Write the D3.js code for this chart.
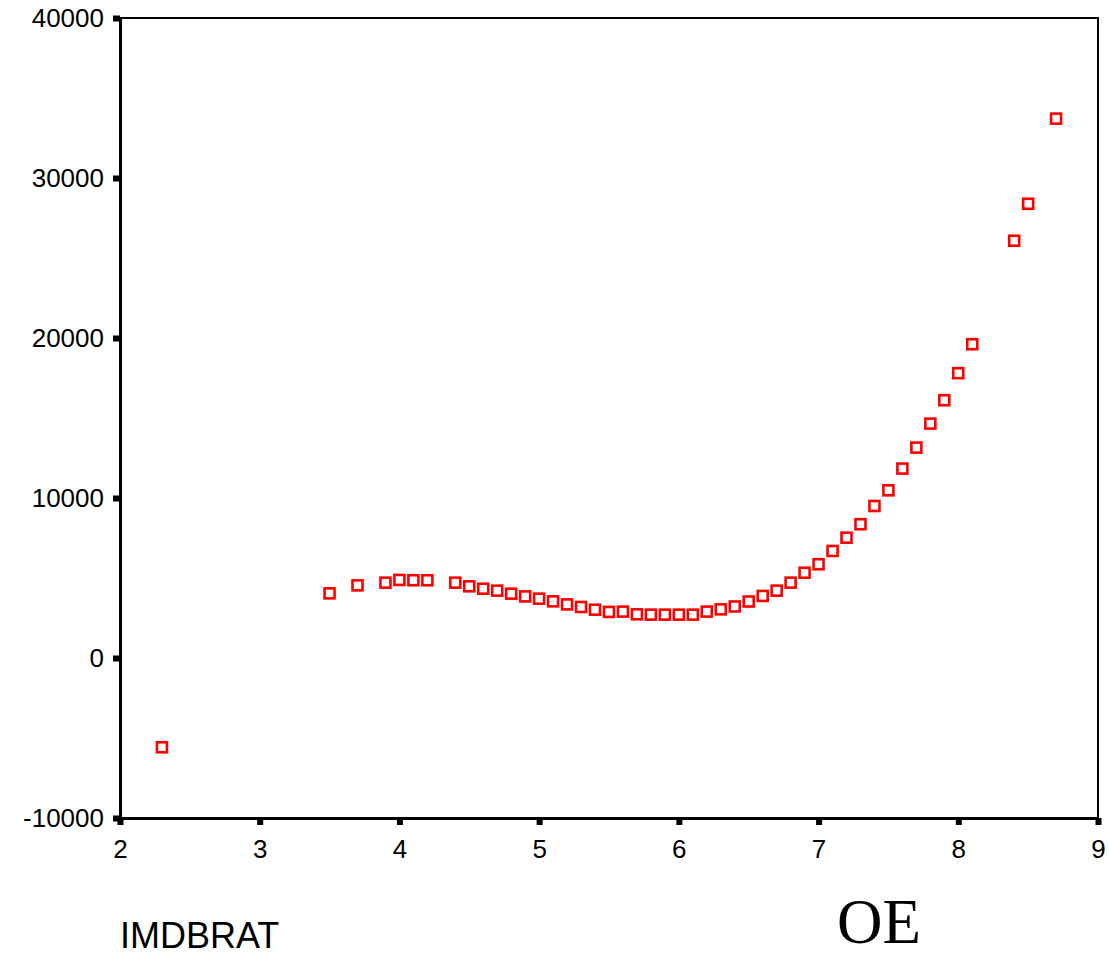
<!DOCTYPE html>
<html>
<head>
<meta charset="utf-8">
<script src="https://cdn.jsdelivr.net/npm/d3@7"></script>
<style>
  html, body { margin: 0; padding: 0; background: #fff; }
  svg { display: block; }
  .tick text { font-family: "Liberation Sans", Arial, sans-serif; font-size: 26px; fill: #000; }
</style>
</head>
<body>
<script>
// IMDB rating (x) against predicted OE (y)
const ratings = [2.3, 3.5, 3.7, 3.9, 4.0, 4.1, 4.2, 4.4, 4.5, 4.6, 4.7, 4.8, 4.9, 5.0,
  5.1, 5.2, 5.3, 5.4, 5.5, 5.6, 5.7, 5.8, 5.9, 6.0, 6.1, 6.2, 6.3, 6.4, 6.5, 6.6,
  6.7, 6.8, 6.9, 7.0, 7.1, 7.2, 7.3, 7.4, 7.5, 7.6, 7.7, 7.8, 7.9, 8.0, 8.1, 8.4,
  8.5, 8.7];
const oeValues = [-5580, 4040, 4540, 4710, 4880, 4860, 4860, 4710, 4480, 4330, 4210,
  4020, 3850, 3710, 3540, 3350, 3190, 3020, 2880, 2900, 2730, 2710, 2710, 2710, 2710,
  2900, 3040, 3220, 3530, 3880, 4210, 4710, 5330, 5860, 6690, 7520, 8360, 9500,
  10480, 11840, 13150, 14650, 16110, 17800, 19610, 26080, 28390, 33710];
const xTicks = [2, 3, 4, 5, 6, 7, 8, 9];
const yTicks = [-10000, 0, 10000, 20000, 30000, 40000];
const xTitle = "IMDBRAT";
const yTitle = "OE";

const W = 1109, H = 956;
const plotL = 120, plotR = 1098, plotT = 18, plotB = 818;

const svg = d3.select("body").append("svg").attr("width", W).attr("height", H);

const x = d3.scaleLinear().domain([2, 9]).range([plotL, plotR]);
const y = d3.scaleLinear().domain([-10000, 40000]).range([plotB, plotT]);

// plain ASCII hyphen for negative labels
const fmt = d => String(d);

// frame: thin top/right, heavier left/bottom
svg.append("rect")
  .attr("x", plotL).attr("y", plotT)
  .attr("width", plotR - plotL).attr("height", plotB - plotT)
  .attr("fill", "none").attr("stroke", "#000").attr("stroke-width", 2);

const yAxis = svg.append("g")
  .attr("transform", `translate(${plotL},0)`)
  .call(d3.axisLeft(y).tickValues(yTicks).tickFormat(fmt)
    .tickSizeInner(7).tickSizeOuter(0).tickPadding(9));
yAxis.select(".domain").attr("stroke-width", 3);
yAxis.selectAll(".tick line").attr("stroke-width", 6);

const xAxis = svg.append("g")
  .attr("transform", `translate(0,${plotB})`)
  .call(d3.axisBottom(x).tickValues(xTicks).tickFormat(fmt)
    .tickSizeInner(7).tickSizeOuter(0).tickPadding(15));
xAxis.select(".domain").attr("stroke-width", 3);
xAxis.selectAll(".tick line").attr("stroke-width", 6);

// square markers
const s = 10;
svg.append("g").selectAll("rect")
  .data(ratings.map((r, i) => [r, oeValues[i]]))
  .join("rect")
  .attr("x", d => x(d[0]) - s / 2)
  .attr("y", d => y(d[1]) - s / 2)
  .attr("width", s).attr("height", s)
  .attr("fill", "#fff")
  .attr("stroke", "#ff0000")
  .attr("stroke-width", 2.6);

svg.append("text")
  .attr("x", 120).attr("y", 948)
  .attr("font-family", "Liberation Sans, Arial, sans-serif")
  .attr("font-size", 36)
  .text(xTitle);

svg.append("text")
  .attr("x", 837).attr("y", 943)
  .attr("font-family", "Liberation Serif, Times New Roman, serif")
  .attr("font-size", 63)
  .text(yTitle);
</script>
</body>
</html>
